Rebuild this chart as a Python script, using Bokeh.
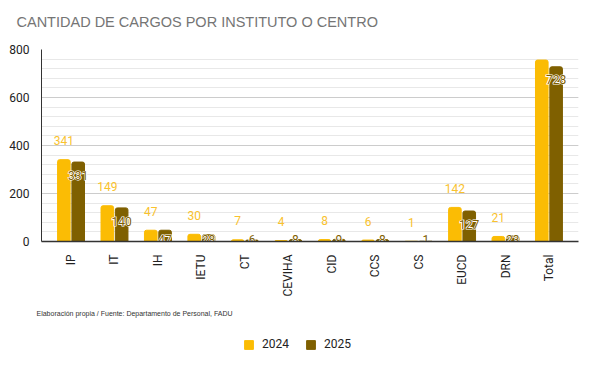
import numpy as np
from bokeh.plotting import figure
from bokeh.layouts import column
from bokeh.models import (ColumnDataSource, Range1d, Legend, LegendItem, Title,
                          FixedTicker, SingleIntervalTicker)
from bokeh.core.properties import value
from bokeh.embed import file_html
from bokeh.resources import INLINE

categories = ["IP", "IT", "IH", "IETU", "CT", "CEVIHA", "CID", "CCS", "CS", "EUCD", "DRN", "Total"]
v2024 = [341, 149, 47, 30, 7, 4, 8, 6, 1, 142, 21, 756]
v2025 = [331, 140, 47, 28, 6, 8, 9, 8, 1, 127, 23, 728]
years = ["2024", "2025"]

title_text = "CANTIDAD DE CARGOS POR INSTITUTO O CENTRO"
footer_text = "Elaboración propia / Fuente: Departamento de Personal, FADU"

C24 = "#FBBC04"
C25 = "#7F6000"
FONT = "Roboto"

x = np.arange(len(categories))
off = 0.165
bw = 0.29

src = ColumnDataSource(dict(
    x24=x - off, x25=x + off,
    v24=v2024, v25=v2025,
    t24=[str(v) for v in v2024], t25=[str(v) for v in v2025],
    y25lab=np.maximum(np.array(v2025) - 55, 10),
))

p = figure(width=590, height=330, output_backend="svg", toolbar_location=None,
           x_range=Range1d(-0.68, 11.68), y_range=Range1d(0, 800),
           min_border_left=41, min_border_right=12, min_border_top=49, min_border_bottom=89)
p.outline_line_color = None
p.background_fill_color = "white"
p.border_fill_color = "white"
p.title_location = None

p.vbar(x="x24", top="v24", width=bw, source=src, color=C24, border_radius=(2, 2, 0, 0))
p.vbar(x="x25", top="v25", width=bw, source=src, color=C25, border_radius=(2, 2, 0, 0))

# value labels
p.text(x="x24", y="v24", text="t24", source=src, text_color="#F9C22E",
       text_font_size="12px", text_font=value(FONT),
       text_align="center", text_baseline="middle", y_offset=-19)
# white halo then brown text
p.text(x="x25", y="y25lab", text="t25", source=src, text_color="white",
       text_font_size="12px", text_font=value(FONT), text_font_style="bold",
       text_align="center", text_baseline="middle",
       text_outline_color="white")
p.text(x="x25", y="y25lab", text="t25", source=src, text_color=C25,
       text_font_size="12px", text_font=value(FONT),
       text_align="center", text_baseline="middle")

# axes
p.xaxis.ticker = FixedTicker(ticks=list(x))
p.xaxis.major_label_overrides = {int(i): c for i, c in zip(x, categories)}
p.xaxis.major_label_orientation = np.pi / 2
p.xaxis.major_label_text_font_size = "12px"
p.xaxis.major_label_text_font = FONT
p.xaxis.major_label_text_color = "#222222"
p.xaxis.major_label_standoff = 7
p.xaxis.major_tick_line_color = None
p.xaxis.minor_tick_line_color = None
p.xaxis.axis_line_color = "#333333"
p.xaxis.axis_line_width = 1.5

p.yaxis.ticker = SingleIntervalTicker(interval=200, num_minor_ticks=5)
p.yaxis.major_label_text_font_size = "12px"
p.yaxis.major_label_text_font = FONT
p.yaxis.major_label_text_color = "#222222"
p.yaxis.major_label_standoff = 6
p.yaxis.major_tick_line_color = None
p.yaxis.minor_tick_line_color = None
p.yaxis.axis_line_color = "#333333"

p.xgrid.grid_line_color = None
p.ygrid.grid_line_color = "#cccccc"
p.ygrid.minor_grid_line_color = "#e8e8e8"

# title (with an empty spacer between it and the plot area)
p.add_layout(Title(text=" ", text_font_size="14px", standoff=0), "above")
p.add_layout(Title(text=title_text, align="left", offset=-25, standoff=4,
                   text_font="Liberation Sans", text_font_size="14.5px",
                   text_font_style="normal", text_color="#757575"), "above")

# footer note
footer = Title(text=footer_text, align="left", offset=-5, standoff=16,
               text_font="Liberation Sans", text_font_size="7px", text_font_style="normal",
               text_color="#333333")
p.add_layout(footer, "below")

# bottom strip: legend
q = figure(width=590, height=35, output_backend="svg", toolbar_location=None,
           x_range=Range1d(0, 1), y_range=Range1d(0, 1),
           min_border=0, x_axis_type=None, y_axis_type=None)
q.outline_line_color = None
q.grid.visible = False
q.background_fill_color = "white"
q.border_fill_color = "white"

e24 = q.vbar(x="x24", top="v24", width=bw, source=src, color=C24, visible=False)
e25 = q.vbar(x="x25", top="v25", width=bw, source=src, color=C25, visible=False)
legend = Legend(items=[LegendItem(label=years[0], renderers=[e24]),
                       LegendItem(label=years[1], renderers=[e25])],
                location=(202, 14), orientation="horizontal",
                glyph_width=11, glyph_height=11, label_height=11, label_standoff=8, spacing=16,
                padding=0, margin=0, border_line_color=None, background_fill_alpha=0,
                inactive_fill_alpha=0,
                label_text_font_size="12px", label_text_color="#222222", label_text_font=FONT)
q.add_layout(legend, "center")

layout = column(p, q, spacing=0)
open("out.html", "w").write(file_html(layout, INLINE))
